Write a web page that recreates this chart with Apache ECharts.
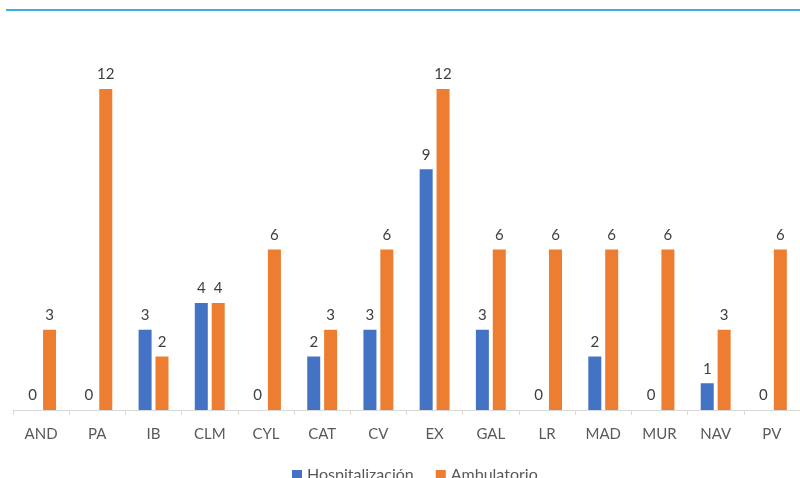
<!DOCTYPE html>
<html>
<head>
<meta charset="utf-8">
<script src="https://cdn.jsdelivr.net/npm/echarts@6/dist/echarts.min.js"></script>
<style>
  html, body { margin: 0; padding: 0; background: #fff; }
  #chart { width: 800px; height: 478px; }
</style>
</head>
<body>
<div id="chart"></div>
<script>
// data
const regions = ["AND", "PA", "IB", "CLM", "CYL", "CAT", "CV", "EX", "GAL", "LR", "MAD", "MUR", "NAV", "PV"];
const hospitalizacion = [0, 0, 3, 4, 0, 2, 3, 9, 3, 0, 2, 0, 1, 0];
const ambulatorio = [3, 12, 2, 4, 6, 3, 6, 12, 6, 6, 6, 6, 3, 6];

const font = "Lato, 'Open Sans', sans-serif";

const chart = echarts.init(document.getElementById("chart"));

const labelStyle = {
  show: true,
  position: "top",
  distance: 7,
  fontFamily: font,
  fontSize: 15,
  color: "#404040",
};

chart.setOption({
  animation: false,
  textStyle: { fontFamily: font },
  graphic: [
    {
      type: "line",
      shape: { x1: 6, y1: 10, x2: 800, y2: 10 },
      style: { stroke: "#3aafe3", lineWidth: 2 },
    },
  ],
  legend: {
    left: 287,
    top: 462,
    itemWidth: 10,
    itemHeight: 10,
    itemGap: 22,
    icon: "rect",
    textStyle: { fontFamily: font, fontSize: 16, color: "#595959" },
    data: ["Hospitalización", "Ambulatorio"],
  },
  grid: {
    left: 13,
    right: -5,
    top: 35.5,
    bottom: 68,
  },
  xAxis: {
    type: "category",
    data: regions,
    axisLine: { lineStyle: { color: "#d9d9d9", width: 1 } },
    axisTick: { show: true, length: 5, lineStyle: { color: "#d9d9d9" } },
    axisLabel: {
      fontFamily: font,
      fontSize: 15,
      color: "#595959",
      margin: 17,
    },
  },
  yAxis: {
    type: "value",
    min: 0,
    max: 14,
    interval: 2,
    show: false,
    splitLine: { show: false },
  },
  series: [
    {
      name: "Hospitalización",
      type: "bar",
      data: hospitalizacion,
      barWidth: 13,
      barGap: "30%",
      itemStyle: { color: "#4472c4" },
      label: labelStyle,
    },
    {
      name: "Ambulatorio",
      type: "bar",
      data: ambulatorio,
      barWidth: 13,
      barGap: "30%",
      itemStyle: { color: "#ed7d31" },
      label: labelStyle,
    },
  ],
});
</script>
</body>
</html>
